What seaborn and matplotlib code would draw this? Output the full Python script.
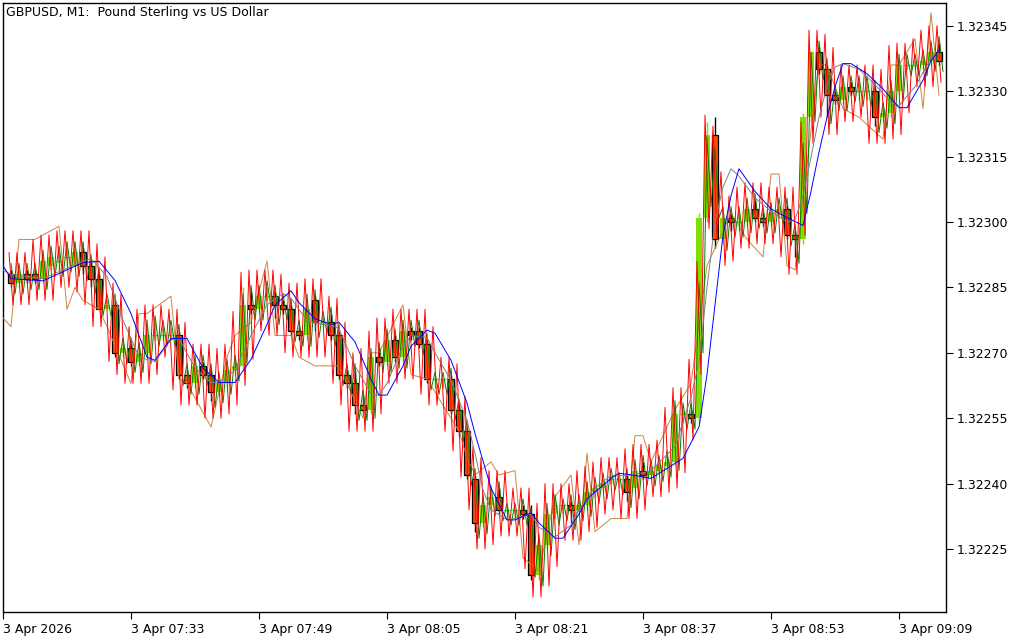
"""
GBPUSD M1 candlestick chart with indicator lines, drawn with seaborn/matplotlib.
"""
import matplotlib
matplotlib.use("Agg")
import matplotlib.pyplot as plt
import numpy as np
import pandas as pd
import seaborn as sns

# prices are kept in points (1 point = 0.00001) above 1.32000
PRICE_BASE = 1.32
POINT = 0.00001

open_pts = [288, 286, 288, 288, 287, 290, 291, 292, 290, 293, 290, 287, 280, 281, 270, 271, 268, 270, 274, 274,
            274, 274, 265, 263, 267, 265, 261, 263, 266, 267, 281, 280, 283, 283, 281, 280, 275, 274, 282, 277,
            277, 274, 265, 263, 258, 257, 269, 268, 273, 269, 275, 275, 272, 264, 264, 264, 257, 252, 241, 231,
            235, 237, 234, 234, 234, 233, 219, 226, 233, 235, 235, 234, 235, 238, 239, 241, 241, 241, 239, 243,
            242, 243, 244, 245, 256, 256, 255, 301, 320, 296, 301, 300, 300, 303, 301, 300, 302, 303, 297, 296,
            324, 339, 335, 329, 328, 331, 330, 330, 330, 324, 325, 330, 336, 336, 336, 337, 339]
high_pts = [289, 289, 289, 289, 292, 293, 293, 294, 294, 294, 291, 288, 282, 282, 272, 272, 271, 276, 277, 276,
            276, 275, 266, 268, 268, 266, 264, 267, 268, 285, 284, 284, 285, 284, 282, 281, 276, 282, 283, 278,
            279, 275, 266, 266, 260, 270, 271, 274, 274, 276, 276, 276, 273, 264, 264, 265, 258, 253, 242, 236,
            238, 239, 234, 234, 235, 235, 227, 234, 236, 235, 236, 236, 239, 240, 241, 242, 241, 242, 244, 245,
            244, 245, 246, 258, 257, 257, 302, 323, 324, 302, 302, 302, 304, 305, 302, 303, 304, 304, 298, 325,
            339, 340, 336, 330, 332, 332, 332, 332, 331, 326, 331, 337, 337, 337, 338, 340, 341]
low_pts = [285, 285, 286, 286, 286, 289, 289, 290, 289, 288, 285, 280, 280, 269, 269, 267, 267, 269, 273, 273,
           273, 264, 262, 262, 264, 259, 260, 262, 265, 266, 279, 279, 282, 278, 279, 274, 273, 273, 275, 276,
           273, 264, 262, 256, 256, 256, 267, 267, 268, 268, 273, 271, 263, 262, 262, 256, 251, 241, 229, 230,
           234, 233, 232, 232, 232, 218, 218, 225, 232, 233, 231, 233, 234, 237, 238, 240, 239, 236, 238, 241,
           241, 242, 243, 244, 254, 254, 254, 300, 294, 295, 298, 298, 299, 300, 299, 299, 301, 296, 292, 295,
           323, 334, 324, 327, 327, 329, 328, 328, 322, 323, 324, 329, 335, 335, 335, 336, 336]
close_pts = [286, 288, 287, 287, 291, 292, 291, 292, 293, 290, 287, 280, 281, 270, 271, 268, 270, 274, 274, 274,
             274, 265, 263, 267, 265, 261, 263, 266, 267, 281, 280, 283, 283, 281, 280, 275, 274, 280, 277, 277,
             274, 265, 263, 258, 257, 269, 268, 273, 269, 275, 274, 272, 264, 264, 264, 257, 252, 242, 231, 235,
             237, 234, 234, 234, 233, 219, 226, 233, 235, 235, 234, 235, 238, 239, 240, 241, 241, 238, 243, 242,
             243, 244, 245, 256, 256, 255, 301, 320, 296, 301, 300, 300, 303, 301, 300, 302, 303, 297, 296, 324,
             339, 335, 329, 328, 331, 330, 330, 330, 324, 325, 330, 336, 336, 336, 337, 339, 337]

# slow (blue) and medium (gray) averages, read at their turning points
blue_bar = [-1, 0, 4, 9, 11, 13, 15, 17, 18, 20, 22, 24, 26, 28, 30, 32, 33, 35, 36, 38, 40, 41, 43, 45, 46,
            47, 49, 50, 52, 53, 55, 57, 58, 60, 62, 63, 65, 66, 68, 69, 71, 72, 75, 76, 78, 80, 82, 84, 86, 87,
            88, 89, 90, 91, 93, 95, 97, 99, 100, 101, 102, 103, 104, 105, 107, 109, 111, 112, 114, 115, 116]
blue_pts = [290, 287, 286.5, 290.7, 291, 286.6, 279, 269, 268.3, 273.3, 273.3, 266.5, 263.2, 263.2, 268.5,
            276.5, 281, 284.2, 281.5, 277.8, 276.5, 277, 272.5, 264, 260.3, 260.3, 267, 271.5, 275.2, 274.5,
            268.3, 258.5, 251.5, 239, 231.7, 231.7, 233.3, 231, 227.5, 227.5, 233, 236.5, 241.2, 242.4, 241.9,
            241.2, 243.5, 245.8, 253, 265, 281, 297, 306, 312.2, 307, 303, 301, 299.2, 307, 316, 324, 331,
            336.3, 336.3, 334, 330.5, 326.2, 326.2, 332.5, 337, 339.3]
gray_bar = [-1, 0, 4, 9, 10, 12, 14, 16, 18, 20, 21, 23, 25, 26, 28, 30, 32, 34, 35, 37, 39, 40, 41, 43, 45,
            46, 47, 49, 50, 52, 53, 55, 57, 58, 59, 60, 62, 64, 65, 66, 68, 70, 71, 73, 75, 77, 79, 80, 83, 85,
            86, 87, 88, 89, 90, 91, 93, 95, 97, 98, 99, 100, 101, 102, 103, 104, 106, 108, 110, 111, 113, 115, 116]
gray_pts = [289, 288, 287, 291, 291.6, 287.5, 277.5, 269, 268, 273, 273.3, 266.5, 263.2, 263.2, 266, 274, 281,
            283.6, 282.5, 277.4, 276.5, 276.5, 275.5, 267, 260.6, 260.3, 263, 271.5, 274, 273.5, 270, 263.7,
            254.5, 247, 238.5, 234, 231.7, 232.5, 233, 230, 227.8, 230.5, 234, 239, 241.9, 241.9, 242.5, 243,
            248.5, 259.8, 268, 285, 300, 308, 312.2, 310.5, 305.5, 302.5, 300, 300.5, 306, 314.8, 324, 331,
            335.5, 336.3, 335, 331.5, 327.4, 326.7, 331, 337.5, 339]
# orange line, read at its vertices
orange_bar = [-1, 0, 1, 3, 6, 7, 8, 9, 11, 12, 15, 16, 17, 20, 21, 22, 25, 27, 28, 30, 32, 33, 35, 36, 38,
              41, 44, 45, 46, 49, 50, 52, 56, 57, 58, 60, 61, 63, 64, 66, 68, 70, 71, 72, 73, 75, 77, 78, 79,
              80, 83, 85, 87, 90, 92, 94, 95, 96, 97, 98, 100, 101, 102, 104, 106, 109, 110, 111, 113, 114,
              115, 116]
orange_pts = [278, 276, 296, 296, 299, 280, 285, 282, 280, 276, 263, 279, 279, 283, 264, 263, 253, 269, 274,
              277, 291, 274, 274, 269, 267, 267, 255, 270, 270, 281, 265, 264, 252, 246, 242, 245, 242, 243,
              223, 220, 237, 242, 226, 247, 229, 232, 232, 251, 251, 245, 257, 263, 290, 302, 296, 292, 311,
              311, 290, 289, 321, 336, 336, 326, 324, 319, 336, 336, 342, 326, 348, 329]

tick_bars = [-1, 15, 31, 47, 63, 79, 95, 111]
tick_labels = ["3 Apr 2026", "3 Apr 07:33", "3 Apr 07:49", "3 Apr 08:05",
               "3 Apr 08:21", "3 Apr 08:37", "3 Apr 08:53", "3 Apr 09:09"]
price_ticks = [1.32225, 1.32240, 1.32255, 1.32270, 1.32285, 1.32300, 1.32315, 1.32330, 1.32345]

BULL = "#7fe000"
BEAR = "#ff4a12"
DOJI = "#00ff00"


def to_price(pts):
    return PRICE_BASE + np.asarray(pts, dtype=float) * POINT


def zigzag(df, margin, window, phase, reach):
    """
    Oscillating band line: swings from the recent high to the recent low inside every bar,
    never further than `reach` points from the bar's mid price.
    """
    mid = (df["high"] + df["low"]) / 2
    hi = df["high"].rolling(window, center=True, min_periods=1).max() + margin * POINT
    lo = df["low"].rolling(window, center=True, min_periods=1).min() - margin * POINT
    hi = np.minimum(hi, mid + reach * POINT)
    lo = np.maximum(lo, mid - reach * POINT)
    xs = np.column_stack([df["bar"] + phase, df["bar"] + phase + 0.5]).ravel()
    ys = np.column_stack([hi, lo]).ravel()
    return xs, ys


def draw_candles(ax, df):
    bull = df[df["close"] > df["open"]]
    bear = df[df["close"] < df["open"]]
    doji = df[df["close"] == df["open"]]
    w = 0.66
    ax.vlines(bull["bar"], bull["low"], bull["high"], color=BULL, lw=1.0, zorder=2)
    ax.vlines(bear["bar"], bear["low"], bear["high"], color="black", lw=1.0, zorder=2)
    ax.bar(bull["bar"], bull["close"] - bull["open"], bottom=bull["open"], width=w,
           color=BULL, edgecolor="none", zorder=3)
    ax.bar(bear["bar"], bear["open"] - bear["close"], bottom=bear["close"], width=w,
           color=BEAR, edgecolor="black", linewidth=0.9, zorder=3)
    ax.vlines(doji["bar"], doji["low"], doji["high"], color=DOJI, lw=1.0, zorder=3)
    ax.hlines(doji["open"], doji["bar"] - w / 2, doji["bar"] + w / 2, color=DOJI, lw=1.0, zorder=3)


candles = pd.DataFrame({
    "bar": np.arange(len(open_pts)),
    "open": to_price(open_pts),
    "high": to_price(high_pts),
    "low": to_price(low_pts),
    "close": to_price(close_pts),
})

sns.set_theme(style="white")
plt.rcParams["font.family"] = ["DejaVu Sans"]

fig = plt.figure(figsize=(10.24, 6.4), dpi=100)
ax = fig.add_axes([3 / 1024, 28 / 640, 943 / 1024, 609 / 640])

draw_candles(ax, candles)

lw = 0.7
opts = dict(estimator=None, sort=False)
sns.lineplot(x=orange_bar, y=to_price(orange_pts), ax=ax, color="#cd853f", lw=lw, zorder=4, **opts)
gx, gy = zigzag(candles, 1.5, 1, 0.0, 8)
sns.lineplot(x=gx, y=gy, ax=ax, color="#008000", lw=lw, zorder=5, **opts)
rx, ry = zigzag(candles, 4, 3, -0.25, 13)
sns.lineplot(x=rx, y=ry, ax=ax, color="#ff0000", lw=lw, zorder=6, **opts)
sns.lineplot(x=gray_bar, y=to_price(gray_pts), ax=ax, color="#808080", lw=lw, zorder=7, **opts)
sns.lineplot(x=blue_bar, y=to_price(blue_pts), ax=ax, color="#0000ff", lw=lw, zorder=8, **opts)

ax.set_xlim(-1, 116.875)
ax.set_ylim(1.3221058, 1.323502)
ax.set_xlabel("")
ax.set_ylabel("")

ax.yaxis.tick_right()
ax.set_yticks(price_ticks)
ax.set_yticklabels([f"{p:.5f}" for p in price_ticks])
ax.set_xticks(tick_bars)
ax.set_xticklabels(tick_labels, ha="left")
ax.tick_params(axis="both", direction="out", length=5, width=0.8, colors="black",
               labelsize=9, pad=3, bottom=True, right=True, left=False)
for spine in ax.spines.values():
    spine.set_visible(True)
    spine.set_color("black")
    spine.set_linewidth(1.0)

ax.text(0.0032, 0.985, "GBPUSD, M1:  Pound Sterling vs US Dollar", transform=ax.transAxes,
        ha="left", va="center", fontsize=9, color="black")

fig.savefig("out.png", dpi=100, facecolor="white")
